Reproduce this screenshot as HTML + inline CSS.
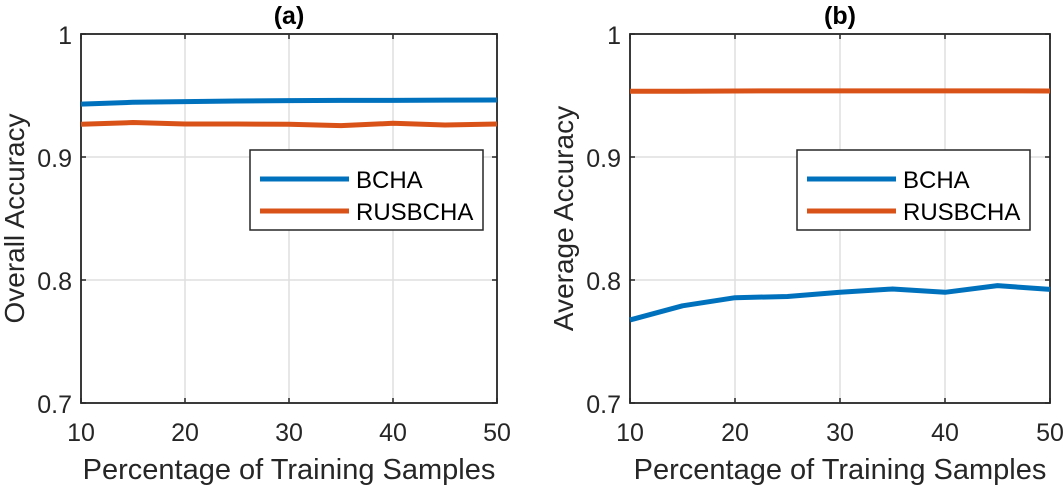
<!DOCTYPE html>
<html><head><meta charset="utf-8"><style>
body{margin:0;background:#fff;font-family:"Liberation Sans",sans-serif;}
svg text{font-family:"Liberation Sans",sans-serif;}
</style></head><body>
<svg id="chart" width="1063" height="486" xmlns="http://www.w3.org/2000/svg"></svg>
<script>
const xVals=[10,15,20,25,30,35,40,45,50];
const xTicks=[10,20,30,40,50];
const yTicks=[0.7,0.8,0.9,1];
const yTickLabels=["0.7","0.8","0.9","1"];
const aBCHA=[0.943,0.9445,0.945,0.9455,0.9458,0.946,0.946,0.9462,0.9463];
const aRUS=[0.9266,0.928,0.9268,0.9268,0.9266,0.9255,0.9274,0.926,0.9268];
const bBCHA=[0.7675,0.779,0.7856,0.7866,0.790,0.7927,0.790,0.7954,0.7924];
const bRUS=[0.9535,0.9535,0.9537,0.9538,0.9538,0.9538,0.9538,0.9538,0.9537];
const seriesNames=["BCHA","RUSBCHA"];
const colors=["#0072BD","#D95319"];
const NS="http://www.w3.org/2000/svg";
const svg=document.getElementById('chart');
function el(t,a,p){const e=document.createElementNS(NS,t);for(const k in a)e.setAttribute(k,a[k]);(p||svg).appendChild(e);return e;}
const panels=[
 {x0:81,x1:497,title:"(a)",ylabel:"Overall Accuracy",series:[aBCHA,aRUS],leg:[250,150,233,80],id:"a"},
 {x0:630,x1:1050,title:"(b)",ylabel:"Average Accuracy",series:[bBCHA,bRUS],leg:[797,150,233,80],id:"b"}
];
const yTop=34,yBot=403;
panels.forEach(p=>{
 const g=el('g',{});
 
 
 const X=v=>p.x0+(v-10)/40*(p.x1-p.x0);
 const Y=v=>yBot-(v-0.7)/0.3*(yBot-yTop);
 xTicks.forEach(t=>{
  const l=el('line',{x1:X(t),x2:X(t),y1:yTop,y2:yBot,stroke:'#dfdfdf','stroke-width':1.5},g);
  
  
  const tx=el('text',{x:X(t),y:yBot+38,'font-size':25,'text-anchor':'middle',fill:'#262626'},g);
  tx.textContent=t;
  
  
  el('line',{x1:X(t),x2:X(t),y1:yBot,y2:yBot-5,stroke:'#262626','stroke-width':1.5},g);
  el('line',{x1:X(t),x2:X(t),y1:yTop,y2:yTop+5,stroke:'#262626','stroke-width':1.5},g);
 });
 yTicks.forEach((t,i)=>{
  const l=el('line',{x1:p.x0,x2:p.x1,y1:Y(t),y2:Y(t),stroke:'#dfdfdf','stroke-width':1.5},g);
  
  
  const tx=el('text',{x:p.x0-9,y:Y(t)+10,'font-size':25,'text-anchor':'end',fill:'#262626'},g);
  tx.textContent=yTickLabels[i];
  
  
  el('line',{x1:p.x0,x2:p.x0+5,y1:Y(t),y2:Y(t),stroke:'#262626','stroke-width':1.5},g);
  el('line',{x1:p.x1,x2:p.x1-5,y1:Y(t),y2:Y(t),stroke:'#262626','stroke-width':1.5},g);
 });
 const box=el('rect',{x:p.x0,y:yTop,width:p.x1-p.x0,height:yBot-yTop,fill:'none',stroke:'#262626','stroke-width':1.8},g);
 
 
 p.series.forEach((s,i)=>{
  const pl=el('polyline',{points:s.map((v,j)=>X(xVals[j])+','+Y(v)).join(' '),fill:'none',stroke:colors[i],'stroke-width':5,'stroke-linejoin':'round'},g);
  
  
 });
 const t=el('text',{x:(p.x0+p.x1)/2,y:24,'font-size':25,'font-weight':'bold','text-anchor':'middle',fill:'#000'},g);
 t.textContent=p.title;
 
 
 const xl=el('text',{x:(p.x0+p.x1)/2,y:479,'font-size':29,'text-anchor':'middle',fill:'#262626'},g);
 xl.textContent='Percentage of Training Samples';
 
 
 const cy=(yTop+yBot)/2;
 const ax=p.x0-57;
 const yl=el('text',{x:ax,y:cy,'font-size':28,'text-anchor':'middle',fill:'#262626',transform:`rotate(-90 ${ax} ${cy})`},g);
 yl.textContent=p.ylabel;
 
 
 const [lx,ly,lw,lh]=p.leg;
 const lg=el('g',{},g);
 
 
 el('rect',{x:lx,y:ly,width:lw,height:lh,fill:'#fff',stroke:'#262626','stroke-width':1.5},lg);
 seriesNames.forEach((n,i)=>{
  const yy=ly+29+i*32;
  el('line',{x1:lx+10,x2:lx+99,y1:yy,y2:yy,stroke:colors[i],'stroke-width':5},lg);
  const lt=el('text',{x:lx+106,y:yy+9,'font-size':24,fill:'#000'},lg);
  lt.textContent=n;
  
  
 });
});
</script>
</body></html>
